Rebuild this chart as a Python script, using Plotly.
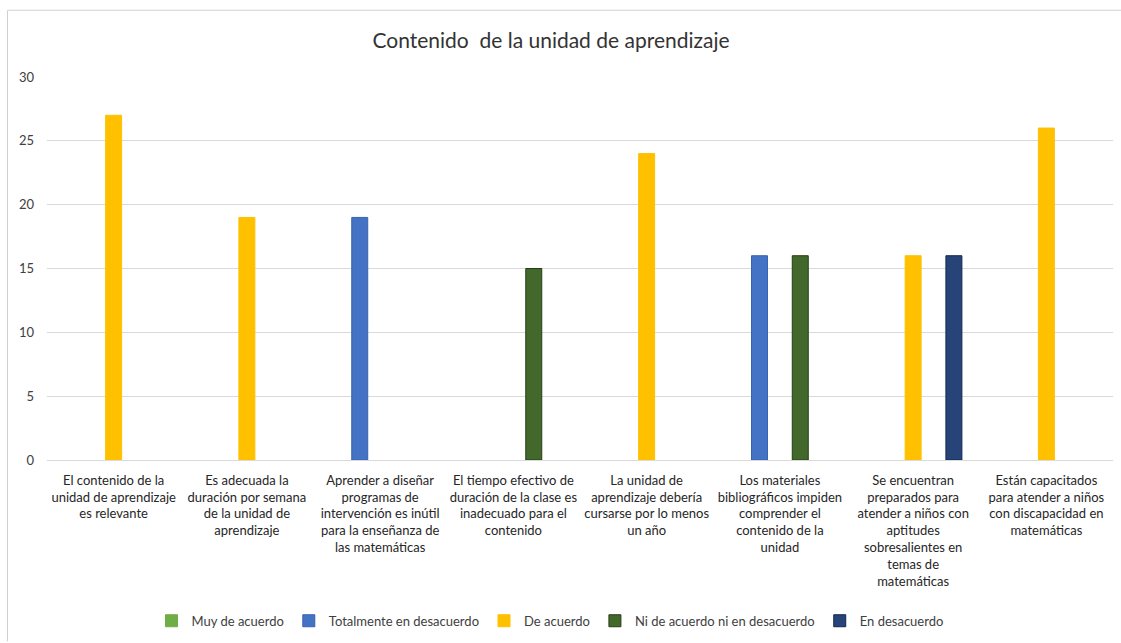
import plotly.graph_objects as go

categories = [
    "El contenido de la<br>unidad de aprendizaje<br>es relevante",
    "Es adecuada la<br>duración por semana<br>de la unidad de<br>aprendizaje",
    "Aprender a diseñar<br>programas de<br>intervención es inútil<br>para la enseñanza de<br>las matemáticas",
    "El tiempo efectivo de<br>duración de la clase es<br>inadecuado para el<br>contenido",
    "La unidad de<br>aprendizaje debería<br>cursarse por lo menos<br>un año",
    "Los materiales<br>bibliográficos impiden<br>comprender el<br>contenido de la<br>unidad",
    "Se encuentran<br>preparados para<br>atender a niños con<br>aptitudes<br>sobresalientes en<br>temas de<br>matemáticas",
    "Están capacitados<br>para atender a niños<br>con discapacidad en<br>matemáticas",
]

muy_de_acuerdo = [0, 0, 0, 0, 0, 0, 0, 0]
totalmente_en_desacuerdo = [0, 0, 19, 0, 0, 16, 0, 0]
de_acuerdo = [27, 19, 0, 0, 24, 0, 16, 26]
ni_de_acuerdo = [0, 0, 0, 15, 0, 16, 0, 0]
en_desacuerdo = [0, 0, 0, 0, 0, 0, 16, 0]

series = [
    ("Muy de acuerdo", muy_de_acuerdo, "#70AD47", "#70AD47"),
    ("Totalmente en desacuerdo", totalmente_en_desacuerdo, "#4472C4", "#3A62AE"),
    ("De acuerdo", de_acuerdo, "#FFC000", "#FFC000"),
    ("Ni de acuerdo ni en desacuerdo", ni_de_acuerdo, "#43682B", "#263D17"),
    ("En desacuerdo", en_desacuerdo, "#264478", "#13264D"),
]

W, H = 1121, 643
L, R, T, B = 47, 1113, 76.5, 461

def px_x(x):
    return (x - L) / (R - L)

def px_y(y):
    return (B - y) / (B - T)

fig = go.Figure()
for name, vals, color, line in series:
    fig.add_trace(go.Bar(
        name=name,
        x=categories,
        y=[v if v else None for v in vals],
        marker=dict(color=color, line=dict(color=line, width=1)),
    ))

font_family = "Lato, 'Open Sans', sans-serif"

fig.update_layout(
    width=W, height=H,
    margin=dict(l=L, r=W - R, t=T, b=H - B),
    paper_bgcolor="white",
    plot_bgcolor="white",
    barmode="group",
    bargap=0.235,
    bargroupgap=0.216,
    font=dict(family=font_family, color="#404040", size=13),
    title=dict(
        text="Contenido  de la unidad de aprendizaje",
        x=(551 / W), xanchor="center", xref="container",
        y=1 - 41 / H, yanchor="middle", yref="container",
        font=dict(size=21, color="#333333", family=font_family),
    ),
    showlegend=True,
    legend=dict(
        orientation="h",
        x=px_x(550), xanchor="center",
        y=px_y(621), yanchor="middle",
        font=dict(size=13, color="#404040"),
        itemwidth=30,
        traceorder="normal",
        tracegroupgap=0,
    ),
    xaxis=dict(
        showgrid=False,
        showline=True,
        linecolor="#D9D9D9",
        linewidth=1,
        ticks="",
        tickangle=0,
        tickfont=dict(size=13, color="#262626"),
        ticklabelstandoff=8,
        automargin=False,
    ),
    yaxis=dict(
        range=[0, 30],
        dtick=5,
        showgrid=True,
        gridcolor="#D9D9D9",
        gridwidth=1,
        zeroline=False,
        showline=False,
        ticks="",
        tickfont=dict(size=13, color="#404040"),
        ticklabelstandoff=12,
        automargin=False,
    ),
    shapes=[
        dict(type="line", xref="paper", yref="paper",
             x0=px_x(8), x1=px_x(1121), y0=px_y(9.5), y1=px_y(9.5),
             line=dict(color="#D0D0D0", width=1)),
        dict(type="line", xref="paper", yref="paper",
             x0=px_x(7.5), x1=px_x(7.5), y0=px_y(9.5), y1=px_y(643),
             line=dict(color="#D0D0D0", width=1)),
    ],
)

fig.write_html(
    "out.html",
    config={"displayModeBar": False},
    post_script="document.body.style.margin='0px';document.body.style.overflow='hidden';",
)
